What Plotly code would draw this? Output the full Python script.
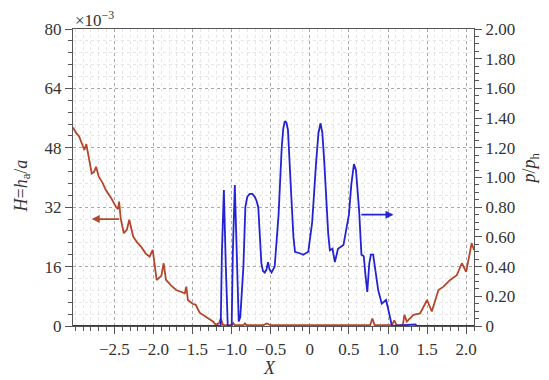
import plotly.graph_objects as go

# Film thickness H (x1e-3), left axis
h_x = [-3.03, -2.99, -2.95, -2.91, -2.885, -2.86, -2.84, -2.79, -2.76, -2.735, -2.70, -2.65,
       -2.61, -2.54, -2.48, -2.455, -2.44, -2.42, -2.38, -2.34, -2.31, -2.26, -2.21, -2.16,
       -2.10, -2.05, -2.01, -1.99, -1.96, -1.90, -1.87, -1.84, -1.78, -1.71, -1.64, -1.60,
       -1.58, -1.56, -1.50, -1.46, -1.41, -1.325, -1.24, -1.20, -1.16, -1.14, -1.11,
       -1.0, -0.98, -0.96, -0.85, -0.83, -0.81, -0.60, -0.55, -0.50, 0.0, 0.5, 0.77, 0.80, 0.83,
       1.05, 1.08, 1.11, 1.19, 1.21, 1.24, 1.325, 1.41, 1.50, 1.56, 1.645, 1.71, 1.795,
       1.88, 1.945, 2.0, 2.07, 2.10]
h_val = [53.5, 52.0, 51.0, 48.5, 47.4, 49.0, 46.5, 41.1, 41.5, 42.9, 40.2, 38.5,
         36.6, 34.4, 32.1, 31.5, 33.5, 29.0, 25.0, 26.0, 28.6, 24.1, 22.5, 21.4,
         19.5, 18.7, 20.5, 17.0, 12.4, 13.5, 16.9, 12.4, 11.0, 9.7, 9.0, 8.8,
         10.6, 7.0, 6.0, 5.7, 3.6, 2.5, 1.2, 0.3, 0.8, 2.1, 0.2,
         0.2, 0.8, 0.2, 0.2, 0.7, 0.2, 0.2, 0.7, 0.2, 0.2, 0.2, 0.2, 2.0, 0.2,
         0.2, 1.5, 0.2, 0.3, 3.0, 1.2, 3.0, 3.4, 7.0, 3.9, 9.7, 10.6, 12.4,
         13.7, 16.9, 14.6, 22.3, 20.5]

# Pressure p/ph, right axis
p_x = [-3.03, -1.14, -1.125, -1.10, -1.075, -1.05, -1.0, -0.985, -0.96, -0.935, -0.91,
       -0.89, -0.85, -0.825, -0.80, -0.77, -0.735, -0.705, -0.68, -0.66, -0.64, -0.62,
       -0.60, -0.577, -0.555, -0.535, -0.515, -0.49, -0.45, -0.40, -0.36, -0.34, -0.32,
       -0.30, -0.28, -0.255, -0.235, -0.21, -0.19, -0.13, -0.085, -0.02, 0.03,
       0.08, 0.11, 0.137, 0.16, 0.185, 0.21, 0.235, 0.256, 0.29, 0.32, 0.36, 0.43, 0.50,
       0.53, 0.564, 0.59, 0.61, 0.63, 0.66, 0.69, 0.71, 0.735, 0.76, 0.78, 0.81, 0.84,
       0.875, 0.92, 0.975, 1.00, 1.05, 1.35, 1.37, 2.10]
p_val = [0.0, 0.0, 0.5, 0.916, 0.4, 0.0, 0.0, 0.5, 0.95, 0.4, 0.03,
         0.06, 0.4, 0.80, 0.87, 0.89, 0.89, 0.87, 0.84, 0.80, 0.60, 0.42,
         0.37, 0.36, 0.38, 0.43, 0.38, 0.36, 0.40, 0.75, 1.20, 1.33, 1.38,
         1.37, 1.32, 1.10, 0.85, 0.60, 0.50, 0.49, 0.48, 0.50, 0.70,
         1.10, 1.30, 1.365, 1.30, 1.10, 0.85, 0.62, 0.51, 0.52, 0.43, 0.52, 0.545, 0.75,
         0.95, 1.09, 1.05, 0.92, 0.78, 0.48, 0.47, 0.35, 0.23, 0.42, 0.48, 0.48, 0.36,
         0.24, 0.15, 0.175, 0.12, 0.0, 0.01, 0.0, 0.0]

x_ticks = [-2.5, -2.0, -1.5, -1.0, -0.5, 0, 0.5, 1.0, 1.5, 2.0]
x_labels = ["\u22122.5", "\u22122.0", "\u22121.5", "\u22121.0", "\u22120.5", "0", "0.5", "1.0", "1.5", "2.0"]
h_ticks = [0, 16, 32, 48, 64, 80]
p_ticks = [0, 0.2, 0.4, 0.6, 0.8, 1.0, 1.2, 1.4, 1.6, 1.8, 2.0]
p_labels = ["0"] + [f"{v:.2f}" for v in p_ticks[1:]]

BROWN = "#b4472b"
BLUE = "#2323d4"
FONT = "Liberation Serif"
AX = "#555555"
TXT = "#333333"

fig = go.Figure()
fig.add_trace(go.Scatter(x=h_x, y=h_val, mode="lines", line=dict(color=BROWN, width=1.8),
                         showlegend=False))
fig.add_trace(go.Scatter(x=p_x, y=p_val, mode="lines", yaxis="y2",
                         line=dict(color=BLUE, width=1.8),
                         showlegend=False))

fig.update_layout(
    width=549, height=380,
    margin=dict(l=73, r=75, t=29, b=54),
    paper_bgcolor="white", plot_bgcolor="white",
    font=dict(family=FONT, size=17, color=TXT),
    xaxis=dict(range=[-3.03, 2.1], tickvals=x_ticks, ticktext=x_labels, automargin=False,
               showline=True, linecolor=AX, linewidth=1.2, mirror=True,
               ticks="outside", ticklen=7, tickcolor=AX,
               showgrid=True, gridcolor="#a8a8a8", griddash="dot", gridwidth=1,
               minor=dict(dtick=0.1, tick0=0, ticks="outside", ticklen=4, tickcolor=AX,
                          showgrid=True, gridcolor="#e6e6e6", gridwidth=1),
               zeroline=False),
    yaxis=dict(range=[0, 80], tickvals=h_ticks, automargin=False,
               showline=True, linecolor=AX, linewidth=1.2,
               ticks="outside", ticklen=7, tickcolor=AX,
               showgrid=True, gridcolor="#a8a8a8", griddash="dot", gridwidth=1,
               minor=dict(dtick=3.2, tick0=0, ticks="outside", ticklen=4, tickcolor=AX,
                          showgrid=True, gridcolor="#e6e6e6", gridwidth=1),
               zeroline=False),
    yaxis2=dict(range=[0, 2.0], overlaying="y", side="right", tickvals=p_ticks,
                ticktext=p_labels, automargin=False, showline=True, linecolor=AX, linewidth=1.2,
                ticks="outside", ticklen=7, tickcolor=AX, showgrid=False, zeroline=False,
                minor=dict(dtick=0.05, tick0=0, ticks="outside", ticklen=4, tickcolor=AX)),
)

# axis titles
fig.add_annotation(xref="paper", yref="paper", x=0.49, y=0, yshift=-42, yanchor="middle",
                   text="<i>X</i>", showarrow=False, font=dict(family=FONT, size=18, color=TXT))
fig.add_annotation(xref="paper", yref="paper", x=0, y=0.47, xshift=-51, xanchor="center",
                   textangle=-90, text="<i>H</i>=<i>h</i><sub>a</sub>/<i>a</i>",
                   showarrow=False, font=dict(family=FONT, size=18, color=TXT))
fig.add_annotation(xref="paper", yref="paper", x=1, y=0.53, xshift=57, xanchor="center",
                   textangle=-90, text="<i>p</i>/<i>p</i><sub>h</sub>",
                   showarrow=False, font=dict(family=FONT, size=18, color=TXT))

# exponent label of the left axis
fig.add_annotation(xref="paper", yref="paper", x=0.0, y=1.0, xanchor="left", yanchor="bottom",
                   text="\u00d710<sup>\u22123</sup>", showarrow=False,
                   font=dict(family=FONT, size=17, color=TXT), yshift=-3)

# direction arrows pointing each curve to its axis
fig.add_annotation(x=-2.79, y=28.8, ax=-2.42, ay=28.8, xref="x", yref="y", axref="x", ayref="y",
                   showarrow=True, arrowhead=2, arrowsize=1, arrowwidth=1.6, arrowcolor=BROWN,
                   text="")
fig.add_annotation(x=1.07, y=0.75, ax=0.64, ay=0.75, xref="x", yref="y2", axref="x", ayref="y2",
                   showarrow=True, arrowhead=2, arrowsize=1, arrowwidth=1.6, arrowcolor=BLUE,
                   text="")

fig.write_html("out.html")
